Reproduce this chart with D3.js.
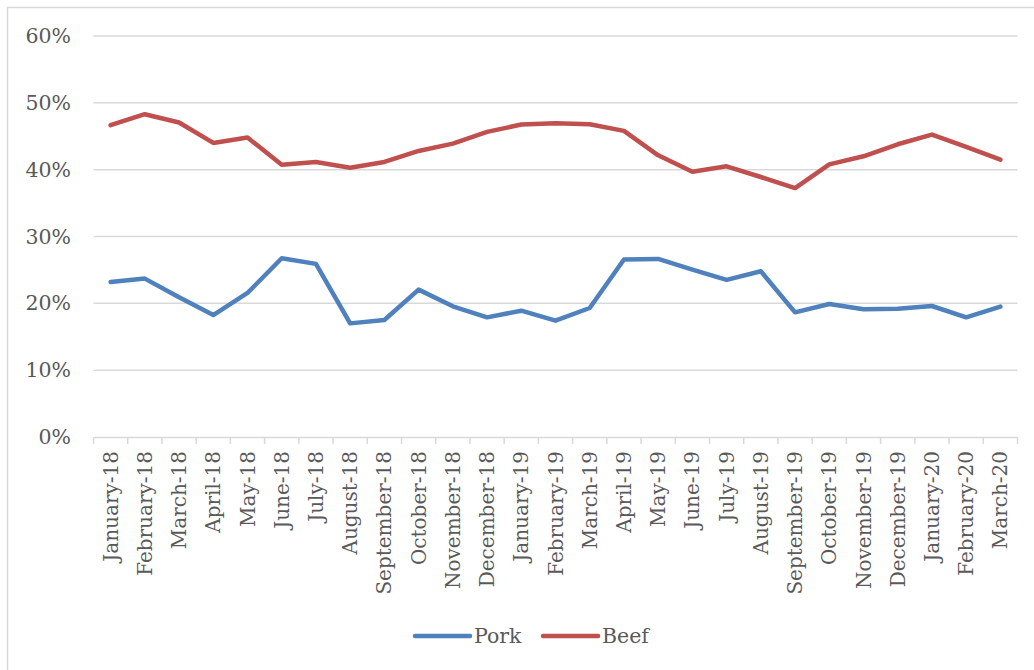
<!DOCTYPE html>
<html>
<head>
<meta charset="utf-8">
<script src="https://cdn.jsdelivr.net/npm/d3@7"></script>
<style>
  html, body { margin: 0; padding: 0; background: #fff; }
  svg { display: block; }
  text { font-family: "DejaVu Serif", "Liberation Serif", serif; fill: #595959; }
</style>
</head>
<body>
<svg id="chart" width="1034" height="670"></svg>
<script>
const categories = ["January-18","February-18","March-18","April-18","May-18","June-18","July-18","August-18","September-18","October-18","November-18","December-18","January-19","February-19","March-19","April-19","May-19","June-19","July-19","August-19","September-19","October-19","November-19","December-19","January-20","February-20","March-20"];
const porkValues = [23.2,23.7,20.9,18.25,21.55,26.75,25.9,17.0,17.5,22.05,19.55,17.9,18.9,17.4,19.3,26.55,26.65,25.05,23.5,24.8,18.65,19.9,19.1,19.2,19.6,17.9,19.5];
const beefValues = [46.65,48.3,47.05,44.0,44.8,40.75,41.15,40.3,41.15,42.8,43.9,45.65,46.75,46.95,46.8,45.8,42.15,39.7,40.5,38.9,37.25,40.8,42.0,43.8,45.25,43.4,41.5];
const yTicks = [0,10,20,30,40,50,60];
const seriesNames = ["Pork","Beef"];
const seriesColors = ["#4F81BD","#C0504D"];

const svg = d3.select("#chart");
const margin = {left: 93.5, right: 1017.5, top: 36, bottom: 437};

// chart frame
svg.append("rect").attr("x",7.5).attr("y",7.5).attr("width",1040).attr("height",700)
  .attr("fill","none").attr("stroke","#D9D9D9").attr("stroke-width",1.5);

const x = d3.scaleBand().domain(categories).range([margin.left, margin.right]).padding(0);
const y = d3.scaleLinear().domain([0,60]).range([margin.bottom, margin.top]);

// gridlines
svg.append("g").selectAll("line").data(yTicks.filter(d => d > 0)).join("line")
  .attr("x1", margin.left).attr("x2", margin.right)
  .attr("y1", d => y(d)).attr("y2", d => y(d))
  .attr("stroke","#D9D9D9").attr("stroke-width",1.5);

// y axis labels
const yAxis = d3.axisLeft(y).tickValues(yTicks).tickFormat(d => d + "%").tickSize(0).tickPadding(0);
const yg = svg.append("g").attr("transform", `translate(71,0)`).call(yAxis);
yg.select(".domain").remove();
yg.selectAll("text").attr("font-size", 20.5).style("font-family", '"DejaVu Serif", serif').attr("fill","#595959");

// x axis
const xAxis = d3.axisBottom(x).tickSize(0).tickFormat(d => d);
const xg = svg.append("g").attr("transform", `translate(0,${margin.bottom})`).call(xAxis);
xg.select(".domain").attr("stroke","#D9D9D9").attr("stroke-width",1.5);
xg.selectAll(".tick line").remove();
xg.selectAll(".tick text")
  .attr("font-size", 20)
  .style("font-family", '"DejaVu Serif", serif')
  .attr("fill","#595959")
  .attr("transform","rotate(-90)")
  .attr("text-anchor","end")
  .attr("x", -14)
  .attr("y", 0)
  .attr("dy","0.35em");
// boundary tick marks
const bounds = categories.map(c => x(c)).concat([margin.right]);
xg.append("g").selectAll("line").data(bounds).join("line")
  .attr("x1", d => d).attr("x2", d => d).attr("y1", 0).attr("y2", 7)
  .attr("stroke","#D9D9D9").attr("stroke-width",1.5);

// lines
const line = d3.line().x((d,i) => x(categories[i]) + x.bandwidth()/2).y(d => y(d));
[porkValues, beefValues].forEach((vals, k) => {
  svg.append("path").datum(vals).attr("d", line)
    .attr("fill","none").attr("stroke", seriesColors[k]).attr("stroke-width",4.5)
    .attr("stroke-linejoin","round").attr("stroke-linecap","round");
});

// legend
const legendX = [415, 543];
seriesNames.forEach((name, k) => {
  const g = svg.append("g").attr("transform", `translate(${legendX[k]},636)`);
  g.append("line").attr("x1",0).attr("x2",55).attr("y1",0).attr("y2",0)
    .attr("stroke", seriesColors[k]).attr("stroke-width",4.5).attr("stroke-linecap","round");
  g.append("text").attr("x",59).attr("y",0).attr("dy","0.35em")
    .attr("font-size",20.5).text(name);
});
</script>
</body>
</html>
